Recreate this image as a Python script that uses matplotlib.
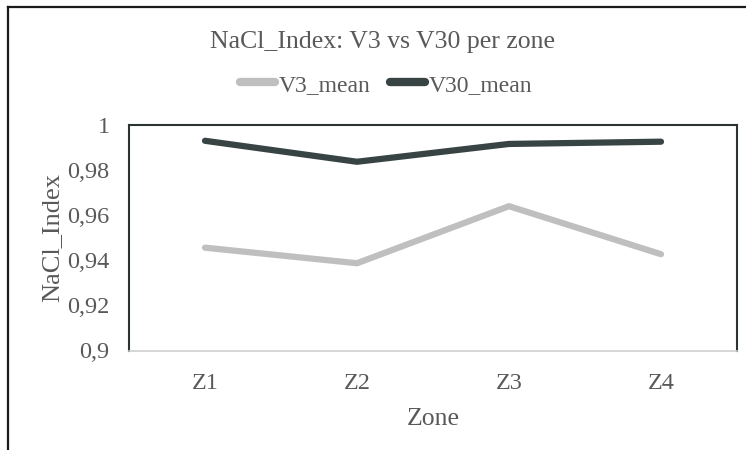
import matplotlib
matplotlib.use("Agg")
import matplotlib.pyplot as plt
from matplotlib.lines import Line2D
from matplotlib.ticker import FuncFormatter

zones = ["Z1", "Z2", "Z3", "Z4"]
v3_mean = [0.9456, 0.9387, 0.9640, 0.9427]
v30_mean = [0.9930, 0.9837, 0.9916, 0.9926]
yticks = [0.9, 0.92, 0.94, 0.96, 0.98, 1.0]

plt.rcParams['font.family'] = ['Liberation Serif', 'DejaVu Serif']
txt = '#595959'
c_v3 = '#BFBFBF'
c_v30 = '#384444'

W, H = 746, 450
fig = plt.figure(figsize=(W / 100, H / 100), dpi=100)
ax = fig.add_axes([129 / W, 1 - 350.5 / H, (737 - 129) / W, (350.5 - 125) / H])

x = list(range(len(zones)))
ax.plot(x, v3_mean, color=c_v3, lw=4.5, solid_capstyle='round', solid_joinstyle='round', label='V3_mean')
ax.plot(x, v30_mean, color=c_v30, lw=4.5, solid_capstyle='round', solid_joinstyle='round', label='V30_mean')

ax.set_xlim(-0.5, 3.5)
ax.set_ylim(0.9, 1.0)
ax.set_xticks(x)
ax.set_xticklabels(zones)
ax.set_yticks(yticks)
ax.yaxis.set_major_formatter(FuncFormatter(lambda v, p: ('%g' % round(v, 2)).replace('.', ',')))
ax.tick_params(length=0, labelsize=17.5, colors=txt)
ax.tick_params(axis='y', pad=14)
ax.tick_params(axis='x', pad=16)

for s in ['left', 'top', 'right']:
    ax.spines[s].set_color('#2b3333')
    ax.spines[s].set_linewidth(1.5)
ax.spines['bottom'].set_color('#D0D0D0')
ax.spines['bottom'].set_linewidth(1.2)

ax.set_xlabel('Zone', fontsize=18.5, color=txt, labelpad=10)
ax.set_ylabel('NaCl_Index', fontsize=19, color=txt, labelpad=3)

fig.text(382 / W, 1 - 48 / H, 'NaCl_Index: V3 vs V30 per zone', ha='center', va='baseline', fontsize=18.5, color=txt)

leg = fig.legend(handles=[Line2D([], [], color=c_v3, lw=6, solid_capstyle='round'),
                          Line2D([], [], color=c_v30, lw=6, solid_capstyle='round')],
                 labels=['V3_mean', 'V30_mean'], loc='center', bbox_to_anchor=(386 / W, 1 - 85 / H),
                 ncol=2, frameon=False, fontsize=17, handlelength=1.5, handletextpad=0.15, columnspacing=0.8)
for t in leg.get_texts():
    t.set_color(txt)

# outer chart border (left and top visible)
fig.add_artist(Line2D([8 / W, 8 / W], [0, 1 - 7 / H], transform=fig.transFigure, color='#1a1a1a', lw=1.6))
fig.add_artist(Line2D([8 / W, 1], [1 - 7 / H, 1 - 7 / H], transform=fig.transFigure, color='#1a1a1a', lw=1.6))

fig.savefig('out.png', dpi=100)
